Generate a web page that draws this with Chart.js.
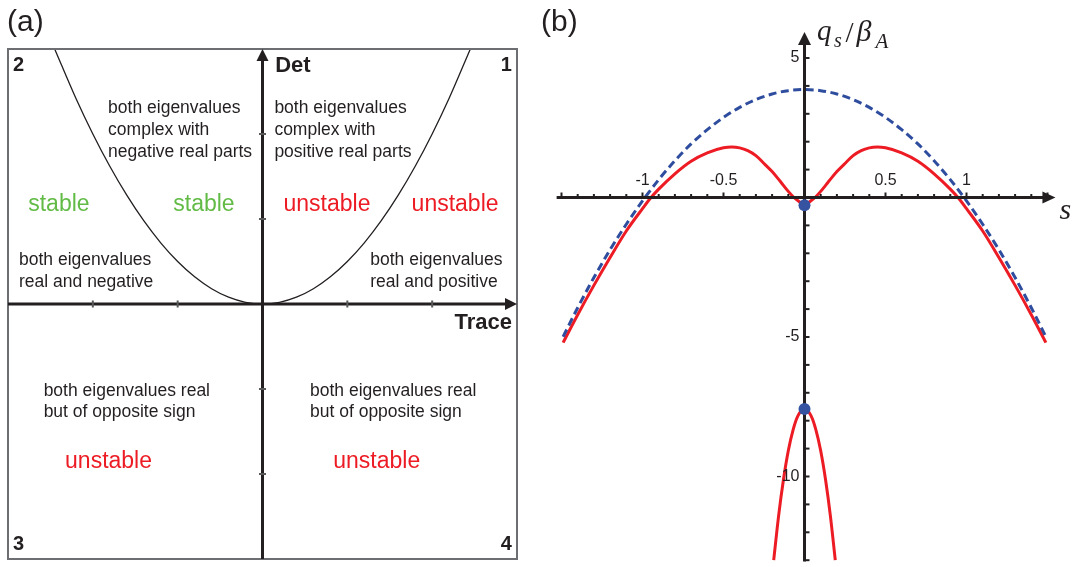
<!DOCTYPE html>
<html>
<head>
<meta charset="utf-8">
<script src="https://cdn.jsdelivr.net/npm/chart.js@4.4.1/dist/chart.umd.min.js"></script>
<style>
html,body{margin:0;padding:0;background:#fff;}
#wrap{position:relative;width:1078px;height:567px;}
#boxa{position:absolute;left:0;top:0;width:540px;height:567px;}
#boxb{position:absolute;left:540px;top:0;width:538px;height:567px;}
</style>
</head>
<body>
<div id="wrap">
	<div id="boxa"><canvas id="cha" width="540" height="567"></canvas></div>
	<div id="boxb"><canvas id="chb" width="538" height="567"></canvas></div>
</div>
<script>
// (a) trace-det plane, parabola Det = Trace^2/4 (scaled)
const traceVals = [-2.45,-2.2,-2,-1.8,-1.6,-1.4,-1.2,-1,-0.8,-0.6,-0.4,-0.2,0,0.2,0.4,0.6,0.8,1,1.2,1.4,1.6,1.8,2,2.2,2.45];
const detVals = [3.0,2.42,2.0,1.62,1.28,0.98,0.72,0.5,0.32,0.18,0.08,0.02,0,0.02,0.08,0.18,0.32,0.5,0.72,0.98,1.28,1.62,2.0,2.42,3.0];
const traceTicks = [-2,-1,1,2];
const detTicks = [-2,-1,1,2];

// (b) q_s/beta_A against s
const sDash = [-1.49,-1.4,-1.3,-1.2,-1.1,-1.0,-0.9,-0.8,-0.7,-0.6,-0.5,-0.4,-0.3,-0.2,-0.1,0,0.1,0.2,0.3,0.4,0.5,0.6,0.7,0.8,0.9,1.0,1.1,1.2,1.3,1.4,1.49];
const qDash = [-4.99,-3.95,-2.87,-1.87,-0.96,-0.12,0.64,1.32,1.92,2.43,2.87,3.23,3.51,3.71,3.83,3.87,3.83,3.71,3.51,3.23,2.87,2.43,1.92,1.32,0.64,-0.12,-0.96,-1.87,-2.87,-3.95,-4.99];
const sRed = [-1.49,-1.4,-1.3,-1.2,-1.1,-1.0,-0.95,-0.9,-0.8,-0.7,-0.6,-0.5,-0.45,-0.4,-0.35,-0.3,-0.25,-0.2,-0.15,-0.1,-0.065,-0.03,0,
	0.03,0.065,0.1,0.15,0.2,0.25,0.3,0.35,0.4,0.45,0.5,0.6,0.7,0.8,0.9,0.95,1.0,1.1,1.2,1.3,1.4,1.49];
const qRed = [-5.2,-4.2,-3.15,-2.15,-1.2,-0.4,-0.02,0.3,0.85,1.3,1.6,1.78,1.81,1.78,1.68,1.5,1.22,0.93,0.58,0.22,0,-0.16,-0.28,
	-0.16,0,0.22,0.58,0.93,1.22,1.5,1.68,1.78,1.81,1.78,1.6,1.3,0.85,0.3,-0.02,-0.4,-1.2,-2.15,-3.15,-4.2,-5.2];
const sInner = [-0.19,-0.16,-0.13,-0.1,-0.07,-0.04,0,0.04,0.07,0.1,0.13,0.16,0.19];
const qInner = [-13.0,-11.42,-10.12,-9.08,-8.32,-7.82,-7.58,-7.82,-8.32,-9.08,-10.12,-11.42,-13.0];
const sDots = [0,0];
const qDots = [-0.28,-7.58];
const sTicks = [-1,-0.5,0.5,1];
const sLabels = ['-1','-0.5','0.5','1'];
const qTicks = [5,-5,-10];
const qLabels = ['5','-5','-10'];

var phase = phase||{}

phase = (()=>{
	const ink = '#231f20';
	const red = '#ed1c24';
	const green = '#62bb46';
	const blue = '#2f4d9e';
	const sans = '"Liberation Sans", Arial, sans-serif';
	const serif = '"Liberation Serif", "Times New Roman", serif';

	// text in panel (a), anchored in trace/det units
	const notesA = [
		{t:-2.94,d:2.81,txt:['2'],font:'bold 20px '+sans,align:'left'},
		{t:2.94,d:2.81,txt:['1'],font:'bold 20px '+sans,align:'right'},
		{t:-2.94,d:-2.835,txt:['3'],font:'bold 20px '+sans,align:'left'},
		{t:2.94,d:-2.835,txt:['4'],font:'bold 20px '+sans,align:'right'},
		{t:0.15,d:2.8,txt:['Det'],font:'bold 22px '+sans,align:'left'},
		{t:2.94,d:-0.22,txt:['Trace'],font:'bold 22px '+sans,align:'right'},
		{t:-1.82,d:2.306,txt:['both eigenvalues','complex with','negative real parts'],font:'17.5px '+sans,align:'left',lh:22.3},
		{t:0.14,d:2.306,txt:['both eigenvalues','complex with','positive real parts'],font:'17.5px '+sans,align:'left',lh:22.3},
		{t:-2.4,d:1.167,txt:['stable'],font:'23px '+sans,align:'center',color:green},
		{t:-0.69,d:1.167,txt:['stable'],font:'23px '+sans,align:'center',color:green},
		{t:0.76,d:1.167,txt:['unstable'],font:'23px '+sans,align:'center',color:red},
		{t:2.27,d:1.167,txt:['unstable'],font:'23px '+sans,align:'center',color:red},
		{t:-2.87,d:0.51,txt:['both eigenvalues','real and negative'],font:'17.5px '+sans,align:'left',lh:21.5},
		{t:1.27,d:0.51,txt:['both eigenvalues','real and positive'],font:'17.5px '+sans,align:'left',lh:21.5},
		{t:-2.58,d:-1.02,txt:['both eigenvalues real','but of opposite sign'],font:'17.5px '+sans,align:'left',lh:21.5},
		{t:0.56,d:-1.02,txt:['both eigenvalues real','but of opposite sign'],font:'17.5px '+sans,align:'left',lh:21.5},
		{t:-1.815,d:-1.856,txt:['unstable'],font:'23px '+sans,align:'center',color:red},
		{t:1.347,d:-1.856,txt:['unstable'],font:'23px '+sans,align:'center',color:red}
	];

let init = ()=>{
	Chart.defaults.font.family = sans;
	drawA();
	drawB();
}
let pts = (xs,ys)=>xs.map((v,i)=>({x:v,y:ys[i]}));
let seg = (ctx,x1,y1,x2,y2)=>{
	ctx.beginPath();
	ctx.moveTo(x1,y1);
	ctx.lineTo(x2,y2);
	ctx.stroke();
}
let arrowHead = (ctx,x,y,dir,len,half)=>{
	ctx.beginPath();
	if(dir==='right'){
		ctx.moveTo(x,y); ctx.lineTo(x-len,y-half); ctx.lineTo(x-len,y+half);
	}else{
		ctx.moveTo(x,y); ctx.lineTo(x-half,y+len); ctx.lineTo(x+half,y+len);
	}
	ctx.closePath();
	ctx.fill();
}

let framePlugin = {
	id:'frameA',
	afterDatasetsDraw(chart){
		const {ctx,chartArea:ca,scales:{x,y}} = chart;
		const x0 = x.getPixelForValue(0), y0 = y.getPixelForValue(0);
		ctx.save();
		ctx.strokeStyle = '#6d6e71';
		ctx.lineWidth = 2;
		ctx.strokeRect(ca.left,ca.top,ca.right-ca.left,ca.bottom-ca.top);
		ctx.strokeStyle = ink;
		ctx.fillStyle = ink;
		ctx.lineWidth = 3;
		seg(ctx,ca.left,y0,ca.right-8,y0);
		arrowHead(ctx,ca.right,y0,'right',12,6);
		seg(ctx,x0,ca.bottom,x0,ca.top+8);
		arrowHead(ctx,x0,ca.top,'up',12,6);
		ctx.strokeStyle = '#58595b';
		ctx.lineWidth = 2;
		traceTicks.forEach(t=>{
			const px = x.getPixelForValue(t);
			seg(ctx,px,y0-3.5,px,y0+3.5);
		})
		detTicks.forEach(d=>{
			const py = y.getPixelForValue(d);
			seg(ctx,x0-3.5,py,x0+3.5,py);
		})
		// labels
		ctx.textBaseline = 'middle';
		notesA.forEach(n=>{
			ctx.font = n.font;
			ctx.fillStyle = n.color||ink;
			ctx.textAlign = n.align;
			const px = x.getPixelForValue(n.t);
			const py = y.getPixelForValue(n.d);
			n.txt.forEach((l,i)=>ctx.fillText(l,px,py+i*(n.lh||0)));
		})
		ctx.font = '30px '+sans;
		ctx.fillStyle = ink;
		ctx.textAlign = 'left';
		ctx.fillText('(a)',7,23);
		ctx.restore();
	}
}

let drawA = ()=>{
	new Chart(document.getElementById('cha'),{
		type:'scatter',
		data:{
			datasets:[{
				data:pts(traceVals,detVals),
				showLine:true,
				borderColor:ink,
				borderWidth:1.3,
				pointRadius:0,
				cubicInterpolationMode:'monotone'
			}]
		},
		options:{
			responsive:false,
			animation:false,
			devicePixelRatio:1,
			layout:{autoPadding:false,padding:{left:8,right:23,top:49,bottom:8}},
			plugins:{legend:{display:false},tooltip:{enabled:false}},
			scales:{
				x:{type:'linear',min:-3,max:3,display:false},
				y:{type:'linear',min:-3,max:3,display:false}
			}
		},
		plugins:[framePlugin]
	});
}

// axes of (b) go between the curves and the blue dots
let axesPlugin = {
	id:'axesB',
	afterDatasetDraw(chart,args){
		if(args.index!==1) return;
		const {ctx,scales:{x,y}} = chart;
		const x0 = x.getPixelForValue(0), y0 = y.getPixelForValue(0);
		ctx.save();
		ctx.strokeStyle = ink;
		ctx.fillStyle = ink;
		ctx.lineWidth = 3;
		const xEnd = x.getPixelForValue(1.549);
		seg(ctx,x.getPixelForValue(-1.53),y0,xEnd-8,y0);
		arrowHead(ctx,xEnd,y0,'right',13,6);
		const yTop = y.getPixelForValue(5.93);
		seg(ctx,x0,y.getPixelForValue(-13.05),x0,yTop+8);
		arrowHead(ctx,x0,yTop,'up',13,6.5);
		ctx.lineWidth = 2;
		for(let i=-15;i<=15;i++){
			const px = x.getPixelForValue(i/10);
			const h = (i%5===0) ? 5 : 3.5;
			seg(ctx,px,y0-h,px,y0);
		}
		for(let q=-13;q<=5;q++){
			const py = y.getPixelForValue(q);
			seg(ctx,x0,py,x0+5,py);
		}
		ctx.font = '16px '+sans;
		ctx.textBaseline = 'middle';
		ctx.textAlign = 'center';
		sTicks.forEach((s,i)=>ctx.fillText(sLabels[i],x.getPixelForValue(s),y0-17));
		ctx.textAlign = 'right';
		qTicks.forEach((q,i)=>ctx.fillText(qLabels[i],x0-5,y.getPixelForValue(q)));
		ctx.restore();
	},
	afterDraw(chart){
		const {ctx,scales:{x,y}} = chart;
		const x0 = x.getPixelForValue(0), y0 = y.getPixelForValue(0);
		ctx.save();
		ctx.fillStyle = ink;
		ctx.textAlign = 'left';
		ctx.textBaseline = 'alphabetic';
		// q_s / beta_A, pieces set like the typeset label
		const put = (t,f,dx,by)=>{
			ctx.font = f;
			ctx.fillText(t,x0+dx,by);
		}
		put('q','italic 29px '+serif,12.5,40);
		put('s','italic 20px '+serif,29.5,47);
		put('/','29px '+serif,41,42);
		put('β','italic 30px '+serif,52,41);
		put('A','italic 21px '+serif,71,48);
		ctx.font = 'italic 30px '+serif;
		ctx.fillText('s',x.getPixelForValue(1.549)+4,y0+21);
		ctx.font = '30px '+sans;
		ctx.fillText('(b)',1,31);
		ctx.restore();
	}
}

let drawB = ()=>{
	new Chart(document.getElementById('chb'),{
		type:'scatter',
		data:{
			datasets:[{
				data:pts(sDots,qDots),
				pointRadius:6,
				pointBackgroundColor:'#3553a0',
				pointBorderWidth:0
			},{
				data:pts(sDash,qDash),
				showLine:true,
				borderColor:blue,
				borderWidth:3,
				borderDash:[8,4.5],
				pointRadius:0,
				cubicInterpolationMode:'monotone'
			},{
				data:pts(sRed,qRed),
				showLine:true,
				borderColor:red,
				borderWidth:3,
				pointRadius:0,
				cubicInterpolationMode:'monotone'
			},{
				data:pts(sInner,qInner),
				showLine:true,
				borderColor:red,
				borderWidth:3,
				pointRadius:0,
				cubicInterpolationMode:'monotone'
			}]
		},
		options:{
			responsive:false,
			animation:false,
			devicePixelRatio:1,
			layout:{autoPadding:false,padding:0},
			plugins:{legend:{display:false},tooltip:{enabled:false}},
			scales:{
				x:{type:'linear',min:-1.6327,max:1.6883,display:false},
				y:{type:'linear',min:-13.244,max:7.079,display:false}
			}
		},
		plugins:[axesPlugin]
	});
}
return {init:init}
})();

phase.init();
</script>
</body>
</html>
